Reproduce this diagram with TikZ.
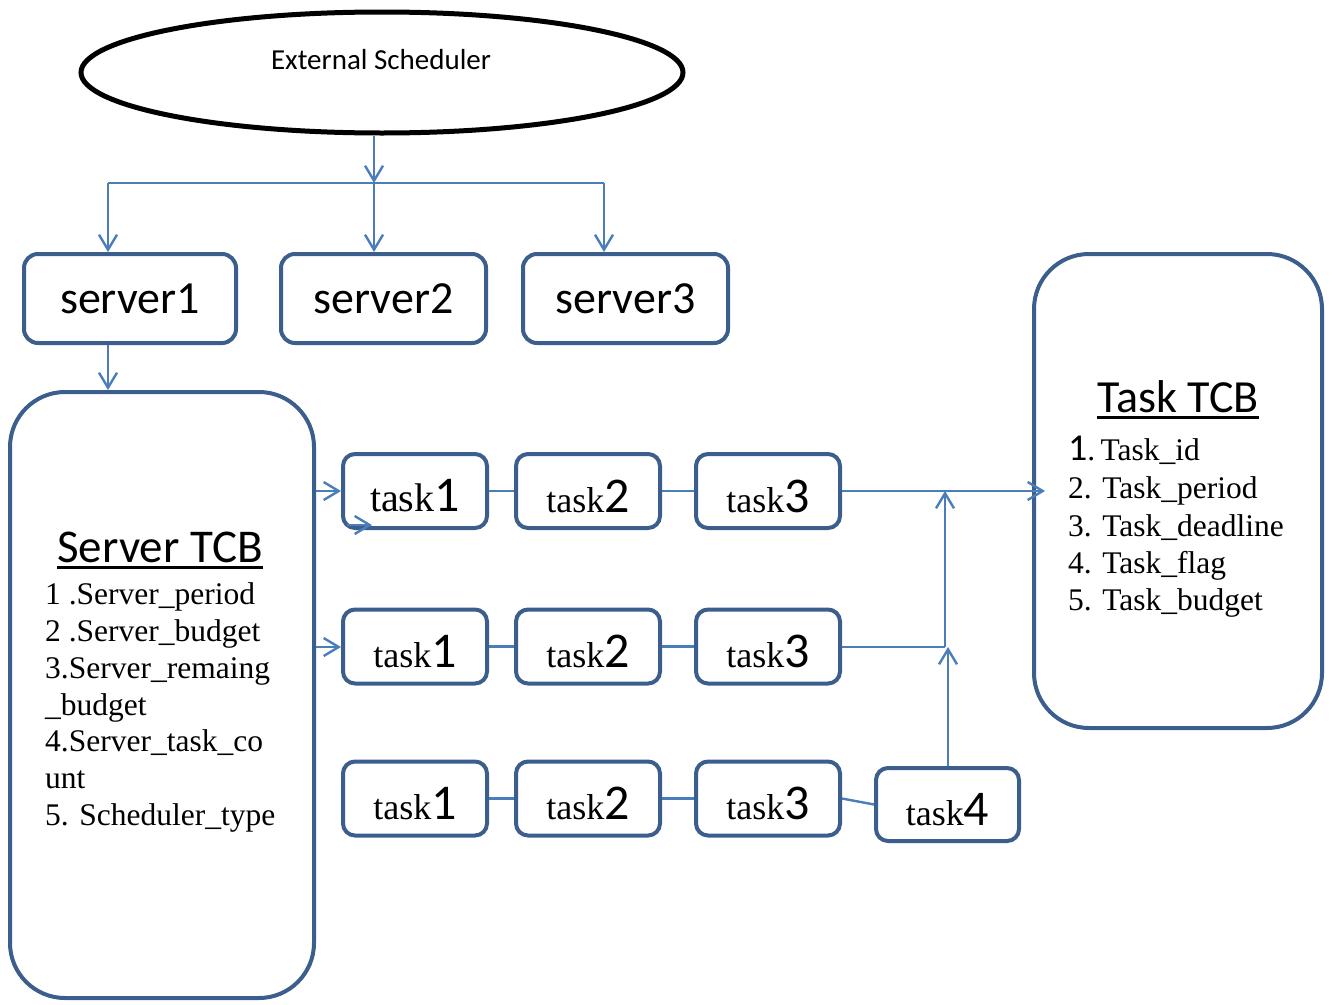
\documentclass[tikz,border=0pt]{standalone}
\usepackage{fontspec}
\setmainfont{Liberation Serif}
\newfontfamily\calf{Carlito}
\usetikzlibrary{arrows.meta,shapes.geometric}
\definecolor{boxc}{HTML}{3B5E8C}
\definecolor{linec}{HTML}{4A7EBB}
\newcommand\myul[1]{\setbox0=\hbox{#1}\rlap{\rule[-7pt]{\wd0}{3.5pt}}\box0}
\newcommand\tasklbl[2][36]{\raisebox{-5pt}[\height][\depth]{{\fontsize{#1}{#1}\selectfont task}{\calf\fontsize{50}{50}\selectfont #2}}}
\tikzset{
  tbox/.style={draw=boxc, line width=4pt, rounded corners=12pt, minimum width=144pt, minimum height=74pt, inner sep=0pt},
  sbox/.style={draw=boxc, line width=4pt, rounded corners=14pt, minimum height=89pt, inner sep=0pt, font=\calf\fontsize{46}{46}\selectfont},
  bigbox/.style={draw=boxc, line width=4pt, rounded corners=55pt, inner sep=0pt},
  conn/.style={draw=linec, line width=2.4pt},
  arr/.style={conn, -{Straight Barb[length=15pt,width=18pt]}},
  listtxt/.style={anchor=base west, inner sep=0pt, font=\fontsize{31.5}{31.5}\selectfont},
}
\begin{document}
\begin{tikzpicture}[x=1pt,y=-1pt]
\useasboundingbox (0,0) rectangle (1333,1004);
% scheduler
\node[draw=black, line width=5pt, ellipse, minimum width=602pt, minimum height=121pt, inner sep=0pt] (ext) at (382,72.5) {};
\node[anchor=base, inner sep=0pt, font=\calf\fontsize{29}{29}\selectfont] (extt) at (381,69) {External Scheduler};
% servers
\node[sbox, minimum width=212pt] (s1) at (130,298.5) {server1};
\node[sbox, minimum width=205pt] (s2) at (383.5,298.5) {server2};
\node[sbox, minimum width=205pt] (s3) at (625.5,298.5) {server3};
% big boxes
\node[bigbox, minimum width=304pt, minimum height=606pt] (stcb) at (162,695) {};
\node[bigbox, minimum width=288pt, minimum height=474pt] (ttcb) at (1178,491) {};
% Server TCB text
\node[anchor=base, inner sep=0pt, font=\calf\fontsize{47}{47}\selectfont] (stitle) at (160,562) {\myul{Server TCB}};
\node[listtxt] (sl1) at (45,604) {1 .Server\_period};
\node[listtxt] (sl2) at (45,641) {2 .Server\_budget};
\node[listtxt] (sl3) at (45,678) {3.Server\_remaing};
\node[listtxt] (sl4) at (45,715) {\_budget};
\node[listtxt] (sl5) at (45,751) {4.Server\_task\_co};
\node[listtxt] (sl6) at (45,788) {unt};
\node[listtxt] (sl7) at (45,825) {5. Scheduler\_type};
% Task TCB text
\node[anchor=base, inner sep=0pt, font=\calf\fontsize{46}{46}\selectfont] (ttitle) at (1178,412) {\myul{Task TCB}};
\node[listtxt] (tl1) at (1068,460) {{\calf\fontsize{38}{38}\selectfont 1}.\,Task\_id};
\node[listtxt] (tl2) at (1068,498) {2. Task\_period};
\node[listtxt] (tl3) at (1068,536) {3. Task\_deadline};
\node[listtxt] (tl4) at (1068,573) {4. Task\_flag};
\node[listtxt] (tl5) at (1068,610) {5. Task\_budget};
% tasks
\node[tbox] (r1t1) at (415,491) {\tasklbl[40]{1}};
\node[tbox] (r1t2) at (588,491) {\tasklbl{2}};
\node[tbox] (r1t3) at (768,491) {\tasklbl{3}};
\node[tbox] (r2t1) at (415,646.5) {\tasklbl{1}};
\node[tbox] (r2t2) at (588,646.5) {\tasklbl{2}};
\node[tbox] (r2t3) at (768,646.5) {\tasklbl{3}};
\node[tbox] (r3t1) at (415,798.5) {\tasklbl{1}};
\node[tbox] (r3t2) at (588,798.5) {\tasklbl{2}};
\node[tbox] (r3t3) at (768,798.5) {\tasklbl{3}};
\node[tbox, minimum width=143pt, minimum height=73pt] (t4) at (947.5,804.5) {\tasklbl{4}};
% coordinates
\coordinate (hub) at (374,183);
\coordinate (hl) at (108,183);
\coordinate (hr) at (604,183);
\coordinate (j1) at (945,491);
\coordinate (j2) at (945,647);
\coordinate (j3) at (948,647);
\coordinate (oddA) at (347,525);
\coordinate (oddB) at (372,525);
% connectors
\draw[arr] (ext.south -| hub) -- (hub);
\draw[conn] (hl) -- (hr);
\draw[arr] (hl) -- (hl |- s1.north);
\draw[arr] (hub) -- (hub |- s2.north);
\draw[arr] (hr) -- (hr |- s3.north);
\draw[arr] (s1.south -| hl) -- (hl |- stcb.north);
\draw[arr] (stcb.east |- r1t1.west) -- (r1t1.west);
\draw[arr] (oddA) -- (oddB);
\draw[arr] (stcb.east |- j2) -- (r2t1.west |- j2);
\draw[conn] (r1t1) -- (r1t2);
\draw[conn] (r1t2) -- (r1t3);
\draw[conn] (r2t1) -- (r2t2);
\draw[conn] (r2t2) -- (r2t3);
\draw[conn] (r3t1) -- (r3t2);
\draw[conn] (r3t2) -- (r3t3);
\draw[conn] (r3t3.east) -- (t4.west);
\draw[arr] (r1t3.east) -- ([xshift=13pt]ttcb.west);
\draw[conn] (r2t3.east |- j2) -- (j2);
\draw[arr] (j2) -- (j1);
\draw[arr] (t4.north -| j3) -- (j3);
\end{tikzpicture}
\end{document}
